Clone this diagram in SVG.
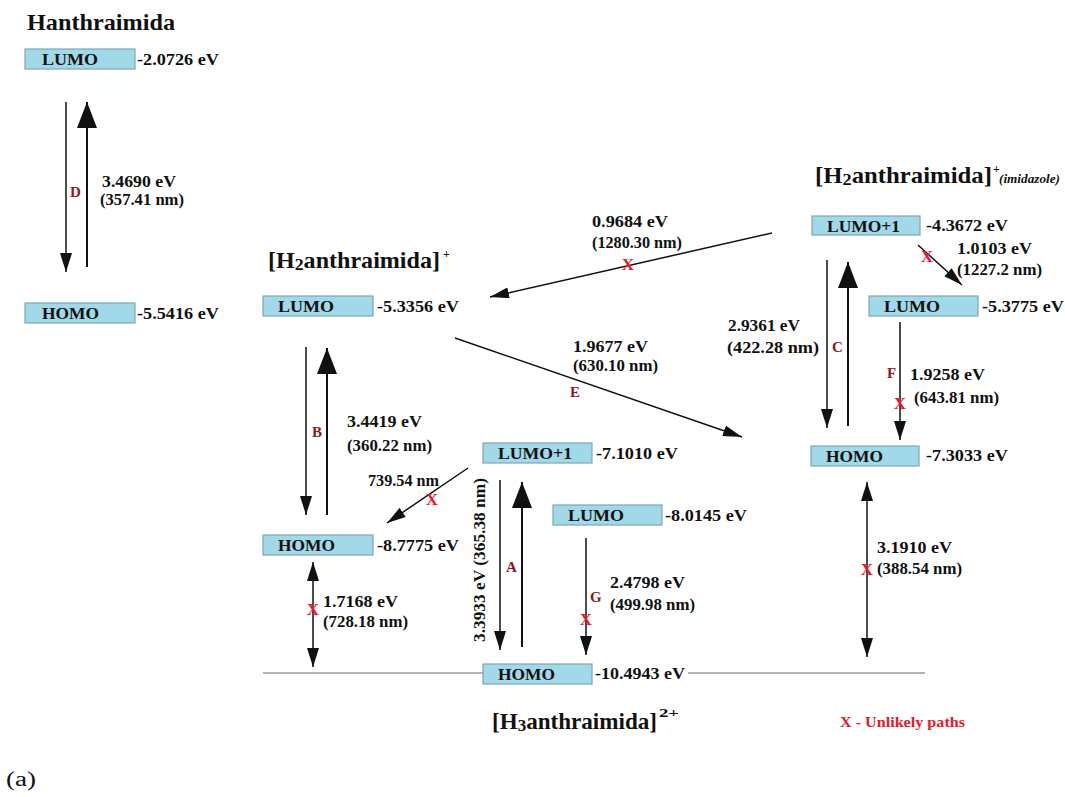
<svg xmlns="http://www.w3.org/2000/svg" width="1065" height="797" viewBox="0 0 1065 797">
<style>
text{font-family:"Liberation Serif","Times New Roman",serif;font-weight:bold;fill:#111}
.v{font-size:17px}
.nm{font-size:16px}
.bl{font-size:17px}
.ttl{font-size:23px}
.lt{font-size:15px;fill:#8b1a1a}
.x{font-size:17px;fill:#e8192c;text-anchor:middle}
.box{fill:#a2d9e9;stroke:#7fa6b4;stroke-width:1.2}
.ln{stroke:#111;stroke-width:1.5;fill:none}
.up{stroke:#111;stroke-width:2;fill:none}
.gl{stroke:#9a9a9a;stroke-width:1.3}
</style>
<defs>
<marker id="big" markerUnits="userSpaceOnUse" markerWidth="26" markerHeight="20" refX="26" refY="10" orient="auto"><path d="M0,0 L26,10 L0,20 z" fill="#111"/></marker>
<marker id="sm" markerUnits="userSpaceOnUse" markerWidth="19" markerHeight="12" refX="19" refY="6" orient="auto-start-reverse"><path d="M0,0 L19,6 L0,12 z" fill="#111"/></marker>
<marker id="md" markerUnits="userSpaceOnUse" markerWidth="19" markerHeight="11" refX="19" refY="5.5" orient="auto"><path d="M0,0 L19,5.5 L0,11 z" fill="#111"/></marker>
</defs>

<g id="connectors">
<line class="ln" x1="66" y1="102" x2="66" y2="272" marker-end="url(#sm)"/>
<line class="up" x1="87" y1="267" x2="87" y2="102" marker-end="url(#big)"/>
<line class="ln" x1="306" y1="347" x2="306" y2="515" marker-end="url(#sm)"/>
<line class="up" x1="327" y1="515" x2="327" y2="348" marker-end="url(#big)"/>
<line class="ln" x1="827" y1="260" x2="827" y2="428" marker-end="url(#sm)"/>
<line class="up" x1="848" y1="426" x2="848" y2="262" marker-end="url(#big)"/>
<line class="ln" x1="900" y1="322" x2="900" y2="440" marker-end="url(#sm)"/>
<line class="ln" x1="918" y1="245" x2="962" y2="285" marker-end="url(#md)"/>
<line class="ln" x1="772" y1="233" x2="490" y2="297" marker-end="url(#md)"/>
<line class="ln" x1="455" y1="338" x2="742" y2="437" marker-end="url(#md)"/>
<line class="ln" x1="867" y1="482" x2="867" y2="657" marker-start="url(#sm)" marker-end="url(#sm)"/>
<line class="ln" x1="500" y1="480" x2="500" y2="650" marker-end="url(#sm)"/>
<line class="up" x1="522" y1="647" x2="522" y2="482" marker-end="url(#big)"/>
<line class="ln" x1="586" y1="538" x2="586" y2="655" marker-end="url(#sm)"/>
<line class="ln" x1="468" y1="468" x2="387" y2="523" marker-end="url(#md)"/>
<line class="ln" x1="313" y1="562" x2="313" y2="667" marker-start="url(#sm)" marker-end="url(#sm)"/>
<line class="gl" x1="263" y1="673" x2="483" y2="673"/>
<line class="gl" x1="688" y1="673" x2="925" y2="673"/>
</g>

<g id="connector-labels">
<text class="lt" x="70" y="197">D</text>
<text class="v" x="102" y="187" textLength="74" lengthAdjust="spacingAndGlyphs">3.4690 eV</text>
<text class="nm" x="100" y="205" textLength="84" lengthAdjust="spacingAndGlyphs">(357.41 nm)</text>

<text class="lt" x="312" y="437">B</text>
<text class="v" x="347" y="427" textLength="75" lengthAdjust="spacingAndGlyphs">3.4419 eV</text>
<text class="nm" x="347" y="451" textLength="85" lengthAdjust="spacingAndGlyphs">(360.22 nm)</text>

<text class="lt" x="832" y="352">C</text>
<text class="v" x="728" y="331" textLength="72" lengthAdjust="spacingAndGlyphs">2.9361 eV</text>
<text class="v" x="727" y="353" textLength="92" lengthAdjust="spacingAndGlyphs">(422.28 nm)</text>

<text class="lt" x="887" y="378">F</text>
<text class="x" x="900" y="409">X</text>
<text class="v" x="910" y="380" textLength="75" lengthAdjust="spacingAndGlyphs">1.9258 eV</text>
<text class="nm" x="914" y="403" textLength="85" lengthAdjust="spacingAndGlyphs">(643.81 nm)</text>

<text class="x" x="927" y="262">X</text>
<text class="v" x="957" y="254" textLength="75" lengthAdjust="spacingAndGlyphs">1.0103 eV</text>
<text class="nm" x="957" y="275" textLength="85" lengthAdjust="spacingAndGlyphs">(1227.2 nm)</text>

<text class="x" x="628" y="270">X</text>
<text class="v" x="592" y="227" textLength="76" lengthAdjust="spacingAndGlyphs">0.9684 eV</text>
<text class="nm" x="592" y="248" textLength="90" lengthAdjust="spacingAndGlyphs">(1280.30 nm)</text>

<text class="lt" x="570" y="397">E</text>
<text class="v" x="573" y="352" textLength="75" lengthAdjust="spacingAndGlyphs">1.9677 eV</text>
<text class="nm" x="573" y="371" textLength="85" lengthAdjust="spacingAndGlyphs">(630.10 nm)</text>

<text class="x" x="867" y="575">X</text>
<text class="v" x="877" y="553" textLength="75" lengthAdjust="spacingAndGlyphs">3.1910 eV</text>
<text class="nm" x="877" y="574" textLength="85" lengthAdjust="spacingAndGlyphs">(388.54 nm)</text>

<text class="lt" x="506" y="572">A</text>
<text class="v" transform="translate(485,642) rotate(-90)" x="0" y="0" textLength="164" lengthAdjust="spacingAndGlyphs">3.3933 eV (365.38 nm)</text>

<text class="lt" x="590" y="602">G</text>
<text class="x" x="586" y="625">X</text>
<text class="v" x="610" y="588" textLength="75" lengthAdjust="spacingAndGlyphs">2.4798 eV</text>
<text class="nm" x="610" y="610" textLength="85" lengthAdjust="spacingAndGlyphs">(499.98 nm)</text>

<text class="x" x="432" y="505">X</text>
<text class="nm" x="368" y="486" textLength="71" lengthAdjust="spacingAndGlyphs">739.54 nm</text>

<text class="x" x="313" y="615">X</text>
<text class="v" x="323" y="607" textLength="75" lengthAdjust="spacingAndGlyphs">1.7168 eV</text>
<text class="nm" x="323" y="627" textLength="85" lengthAdjust="spacingAndGlyphs">(728.18 nm)</text>
</g>

<g id="hanthraimida">
<text x="27" y="30" style="font-size:24px" textLength="148" lengthAdjust="spacingAndGlyphs">Hanthraimida</text>
<rect class="box" x="25" y="49" width="110" height="20"/>
<text class="bl" x="42" y="65" textLength="56" lengthAdjust="spacingAndGlyphs">LUMO</text>
<text class="v" x="137" y="65" textLength="82" lengthAdjust="spacingAndGlyphs">-2.0726 eV</text>
<rect class="box" x="25" y="303" width="110" height="20"/>
<text class="bl" x="42" y="319" textLength="57" lengthAdjust="spacingAndGlyphs">HOMO</text>
<text class="v" x="137" y="319" textLength="82" lengthAdjust="spacingAndGlyphs">-5.5416 eV</text>
</g>

<g id="h2anthraimida">
<text class="ttl" x="268" y="268" textLength="172" lengthAdjust="spacingAndGlyphs">[H<tspan style="font-size:17px" dy="2">2</tspan><tspan dy="-2">anthraimida]</tspan></text>
<text x="443" y="258" style="font-size:12px">+</text>
<rect class="box" x="263" y="296" width="110" height="20"/>
<text class="bl" x="278" y="312" textLength="56" lengthAdjust="spacingAndGlyphs">LUMO</text>
<text class="v" x="377" y="312" textLength="82" lengthAdjust="spacingAndGlyphs">-5.3356 eV</text>
<rect class="box" x="263" y="535" width="110" height="20"/>
<text class="bl" x="278" y="551" textLength="57" lengthAdjust="spacingAndGlyphs">HOMO</text>
<text class="v" x="377" y="551" textLength="82" lengthAdjust="spacingAndGlyphs">-8.7775 eV</text>
</g>

<g id="h2anthraimida-imidazole">
<text class="ttl" x="815" y="183" textLength="177" lengthAdjust="spacingAndGlyphs">[H<tspan style="font-size:17px" dy="2">2</tspan><tspan dy="-2">anthraimida]</tspan></text>
<text x="993" y="173" style="font-size:12px">+</text>
<text x="999" y="183" style="font-size:12px;font-style:italic" textLength="61" lengthAdjust="spacingAndGlyphs">(imidazole)</text>
<rect class="box" x="812" y="216" width="108" height="19"/>
<text class="bl" x="827" y="232" textLength="73" lengthAdjust="spacingAndGlyphs">LUMO+1</text>
<text class="v" x="926" y="231" textLength="82" lengthAdjust="spacingAndGlyphs">-4.3672 eV</text>
<rect class="box" x="869" y="296" width="109" height="20"/>
<text class="bl" x="884" y="312" textLength="56" lengthAdjust="spacingAndGlyphs">LUMO</text>
<text class="v" x="982" y="312" textLength="82" lengthAdjust="spacingAndGlyphs">-5.3775 eV</text>
<rect class="box" x="811" y="446" width="108" height="20"/>
<text class="bl" x="826" y="462" textLength="57" lengthAdjust="spacingAndGlyphs">HOMO</text>
<text class="v" x="926" y="461" textLength="82" lengthAdjust="spacingAndGlyphs">-7.3033 eV</text>
</g>

<g id="h3anthraimida">
<text class="ttl" x="492" y="729" textLength="165" lengthAdjust="spacingAndGlyphs">[H<tspan style="font-size:17px" dy="2">3</tspan><tspan dy="-2">anthraimida]</tspan></text>
<text x="659" y="717" style="font-size:13px" textLength="20" lengthAdjust="spacingAndGlyphs">2+</text>
<rect class="box" x="483" y="443" width="109" height="20"/>
<text class="bl" x="498" y="459" textLength="74" lengthAdjust="spacingAndGlyphs">LUMO+1</text>
<text class="v" x="596" y="459" textLength="82" lengthAdjust="spacingAndGlyphs">-7.1010 eV</text>
<rect class="box" x="553" y="505" width="109" height="20"/>
<text class="bl" x="568" y="521" textLength="56" lengthAdjust="spacingAndGlyphs">LUMO</text>
<text class="v" x="665" y="521" textLength="82" lengthAdjust="spacingAndGlyphs">-8.0145 eV</text>
<rect class="box" x="483" y="664" width="109" height="20"/>
<text class="bl" x="498" y="680" textLength="57" lengthAdjust="spacingAndGlyphs">HOMO</text>
<text class="v" x="595" y="679" textLength="90" lengthAdjust="spacingAndGlyphs">-10.4943 eV</text>
</g>

<g id="legend">
<text x="840" y="727" style="font-size:15px;fill:#e8192c" textLength="125" lengthAdjust="spacingAndGlyphs">X - Unlikely paths</text>
<text x="6" y="786" style="font-size:20px;font-weight:normal" textLength="30" lengthAdjust="spacingAndGlyphs">(a)</text>
</g>
</svg>
